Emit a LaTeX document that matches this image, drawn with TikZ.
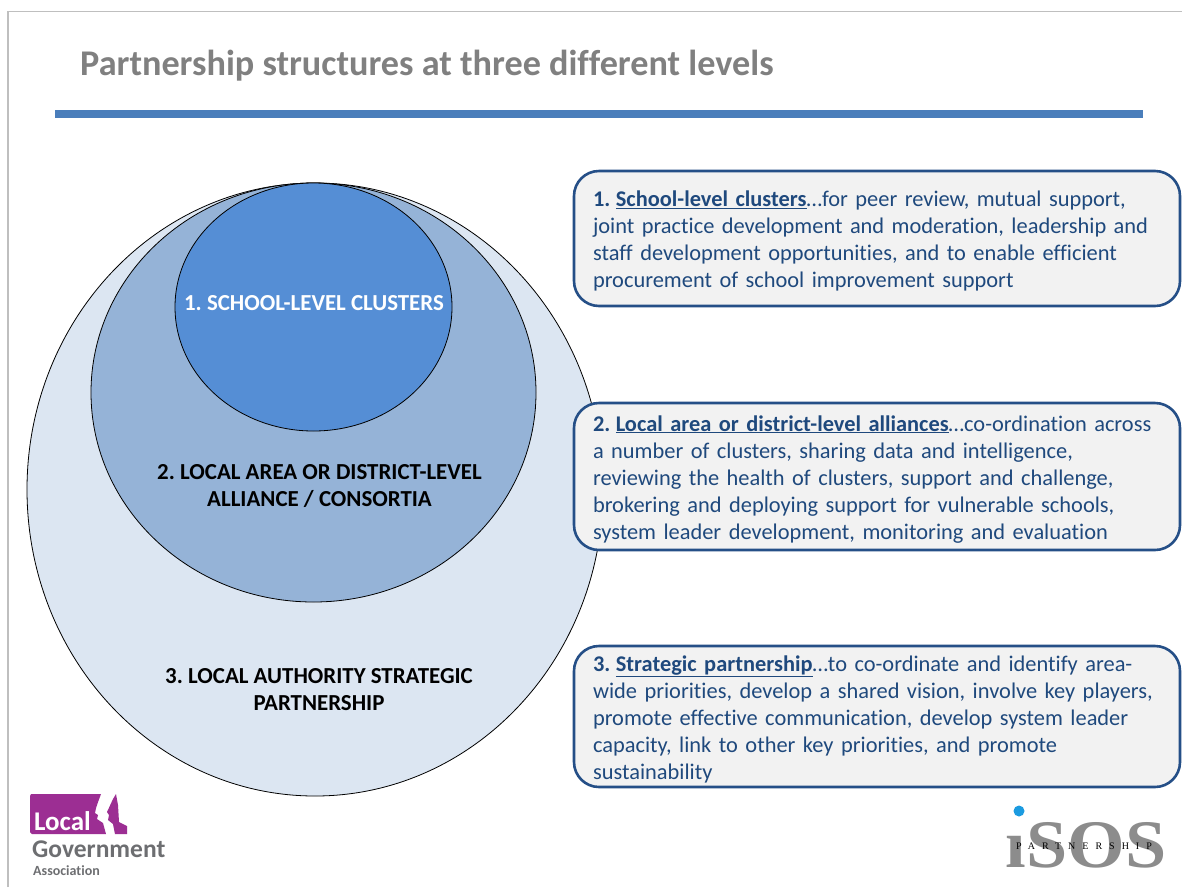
\documentclass[tikz,border=0pt]{standalone}
\usepackage{fontspec}
\setmainfont{Carlito}[Ligatures=NoCommon]
\frenchspacing
\usetikzlibrary{shapes.geometric}
\definecolor{navy}{HTML}{1F497D}
\definecolor{edgeblue}{HTML}{254F87}
\definecolor{paper}{HTML}{F2F2F2}
\definecolor{outerfill}{HTML}{DCE6F2}
\definecolor{midfill}{HTML}{95B3D7}
\definecolor{innerfill}{HTML}{558ED5}
\definecolor{barblue}{HTML}{4A7EBB}
\definecolor{lgapurple}{HTML}{9C2E93}
\definecolor{lgagrey}{HTML}{6D6E71}
\definecolor{isosblue}{HTML}{1B9BE0}
\tikzset{
  level/.style={ellipse,draw=black,line width=0.8pt,inner sep=0pt},
  levellabel/.style={align=center,font=\fontsize{22.9}{27}\selectfont\bfseries,inner sep=0pt},
  infobox/.style={draw=edgeblue,fill=paper,line width=2.6pt,rounded corners=25pt,
    minimum width=606pt,text width=568pt,inner xsep=19pt,inner ysep=0pt,align=left,
    text=navy,font=\fontsize{22.4}{27}\selectfont},
}
\newcommand{\lead}[2]{\rule{0pt}{21pt}\textbf{#1\hspace{5.5pt}\underline{#2}}}
\begin{document}
\begin{tikzpicture}[x=1pt,y=-1pt]
\useasboundingbox (0,0) rectangle (1182,887);
\fill[white] (0,0) rectangle (1182,887);
\coordinate (frameA) at (8,887);
\coordinate (frameB) at (8,11.5);
\coordinate (frameC) at (1182,11.5);
\draw[color=black!25,line width=1.6pt] (frameA) -- (frameB) -- (frameC);
\node[anchor=west,text=black!50,inner sep=0pt,font=\fontsize{36.2}{40}\selectfont\bfseries] (title) at (80,65.5) {Partnership structures at three different levels};
\fill[barblue] (55,110) rectangle (1143,118);
\node[level,fill=outerfill,minimum width=576pt,minimum height=613pt] (outer) at (315,489.5) {};
\node[level,fill=midfill,minimum width=445pt,minimum height=419pt] (middle) at (313.5,392.5) {};
\node[level,fill=innerfill,minimum width=277pt,minimum height=248pt] (inner) at (313.5,307) {};
\node[levellabel,text=white] (l1) at (314,303) {1. SCHOOL-LEVEL CLUSTERS};
\node[levellabel,text=black] (l2) at (319.5,486) {2. LOCAL AREA OR DISTRICT-LEVEL\\ALLIANCE / CONSORTIA};
\node[levellabel,text=black] (l3) at (319,690) {3. LOCAL AUTHORITY STRATEGIC\\PARTNERSHIP};
\node[infobox,minimum height=135pt] (box1) at (877,238.5) {\lead{1.}{School-level clusters}…for peer review, mutual support,\\joint practice development and moderation, leadership and\\staff development opportunities, and to enable efficient\\procurement of school improvement support};
\node[infobox,minimum height=147pt] (box2) at (877,476.5) {\lead{2.}{Local area or district-level alliances}…co-ordination across\\a number of clusters, sharing data and intelligence,\\reviewing the health of clusters, support and challenge,\\brokering and deploying support for vulnerable schools,\\system leader development, monitoring and evaluation};
\node[infobox,minimum height=141pt] (box3) at (877,716.5) {\lead{3.}{Strategic partnership}…to co-ordinate and identify area-\\wide priorities, develop a shared vision, involve key players,\\promote effective communication, develop system leader\\capacity, link to other key priorities, and promote\\sustainability};
% LGA logo
\fill[lgapurple] (30,796) -- (31,794) -- (101,794) .. controls (99,800) and (96,806) .. (95,813) -- (98,815) -- (97,819) -- (103,823) -- (106,834) -- (32,834) -- (30,832) -- cycle;
\fill[lgapurple] (116,794) .. controls (112,800) and (110,806) .. (107,812) -- (109,815) -- (108,820) -- (113,824) -- (115,834) -- (127,834) -- (127,826) -- (119,822) -- (118,805) -- cycle;
\node[anchor=base west,text=white,inner sep=0pt,font=\fontsize{27}{27}\selectfont\bfseries] (lgalocal) at (34,830) {Local};
\node[anchor=base west,text=lgagrey,inner sep=0pt,font=\fontsize{25.5}{26}\selectfont\bfseries] (lgagov) at (32,857) {Government};
\node[anchor=base west,text=lgagrey,inner sep=0pt,font=\fontsize{14}{14}\selectfont\bfseries] (lgaassoc) at (33,875) {Association};
% iSOS logo
\fill[isosblue] (1019,811) circle (5.5);
\node[anchor=base,text=black!45,inner sep=0pt,xscale=1.09,font=\fontsize{68}{68}\selectfont\bfseries] (isos) at (1086,867) {\fontspec{Liberation Serif}ıSOS};
\node[anchor=base,text=black,inner sep=0pt,font=\fontsize{10}{10}\selectfont] (isospart) at (1084,849) {\fontspec{Liberation Serif}[LetterSpace=70]PARTNERSHIP};
\end{tikzpicture}
\end{document}
